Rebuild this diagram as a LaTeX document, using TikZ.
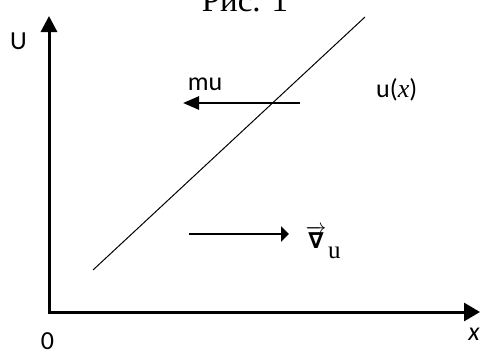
\documentclass[tikz,border=0pt]{standalone}
\usepackage{fontspec}
\setmainfont{Liberation Serif}
\newfontfamily\lblfont{Carlito}
\newfontfamily\nablafont{DejaVu Sans}
\usetikzlibrary{arrows.meta}
\begin{document}
\begin{tikzpicture}[x=1pt,y=-1pt,
  lbl/.style={font=\lblfont\fontsize{26}{30}\selectfont, inner sep=0pt, anchor=base},
  axis/.style={line width=3pt, line join=miter},
  arrowline/.style={line width=2.5pt}]
\useasboundingbox (0,0) rectangle (481,351);
% title (cut off at top)
\node[anchor=base, inner sep=0pt, font=\fontsize{33}{36}\selectfont] (title) at (245,11) {Рис. 1};
% axes
\coordinate (ytip) at (49,16);
\coordinate (orig) at (49,312);
\coordinate (xtip) at (480,312);
\draw[axis, {Triangle[length=16pt,width=16pt]}-{Triangle[length=16pt,width=18pt]}] (ytip) -- (orig) -- (xtip);
\node[lbl] (U) at (18.5,49) {U};
\node[lbl] (zero) at (47.5,349) {0};
\node[lbl, font=\lblfont\itshape\fontsize{26}{30}\selectfont] (xl) at (474,340) {x};
% diagonal line u(x)
\coordinate (d1) at (93,270);
\coordinate (d2) at (365,17);
\draw[line width=1pt] (d1) -- (d2);
\node[lbl, anchor=base west] (ux) at (376,97) {u({\rmfamily\itshape\fontsize{26}{30}\selectfont x})};
% mu arrow
\coordinate (m1) at (300,103);
\coordinate (m2) at (183,103);
\draw[arrowline, -{Triangle[length=16pt,width=13pt]}] (m1) -- (m2);
\node[lbl] (mu) at (205,90) {mu};
% lower arrow
\coordinate (v1) at (189,234);
\coordinate (v2) at (289,234);
\draw[line width=2pt, -{Triangle[length=8pt,width=15pt]}] (v1) -- (v2);
\node[anchor=base, inner sep=0pt, font=\fontsize{20}{24}\selectfont] (nabla) at (316,248) {$\overrightarrow{\hbox{\nablafont\bfseries\fontsize{22}{24}\selectfont ∇}}$};
\node[anchor=base west, inner sep=0pt, font=\fontsize{25}{28}\selectfont] (sub) at (328,258) {u};
\end{tikzpicture}
\end{document}
